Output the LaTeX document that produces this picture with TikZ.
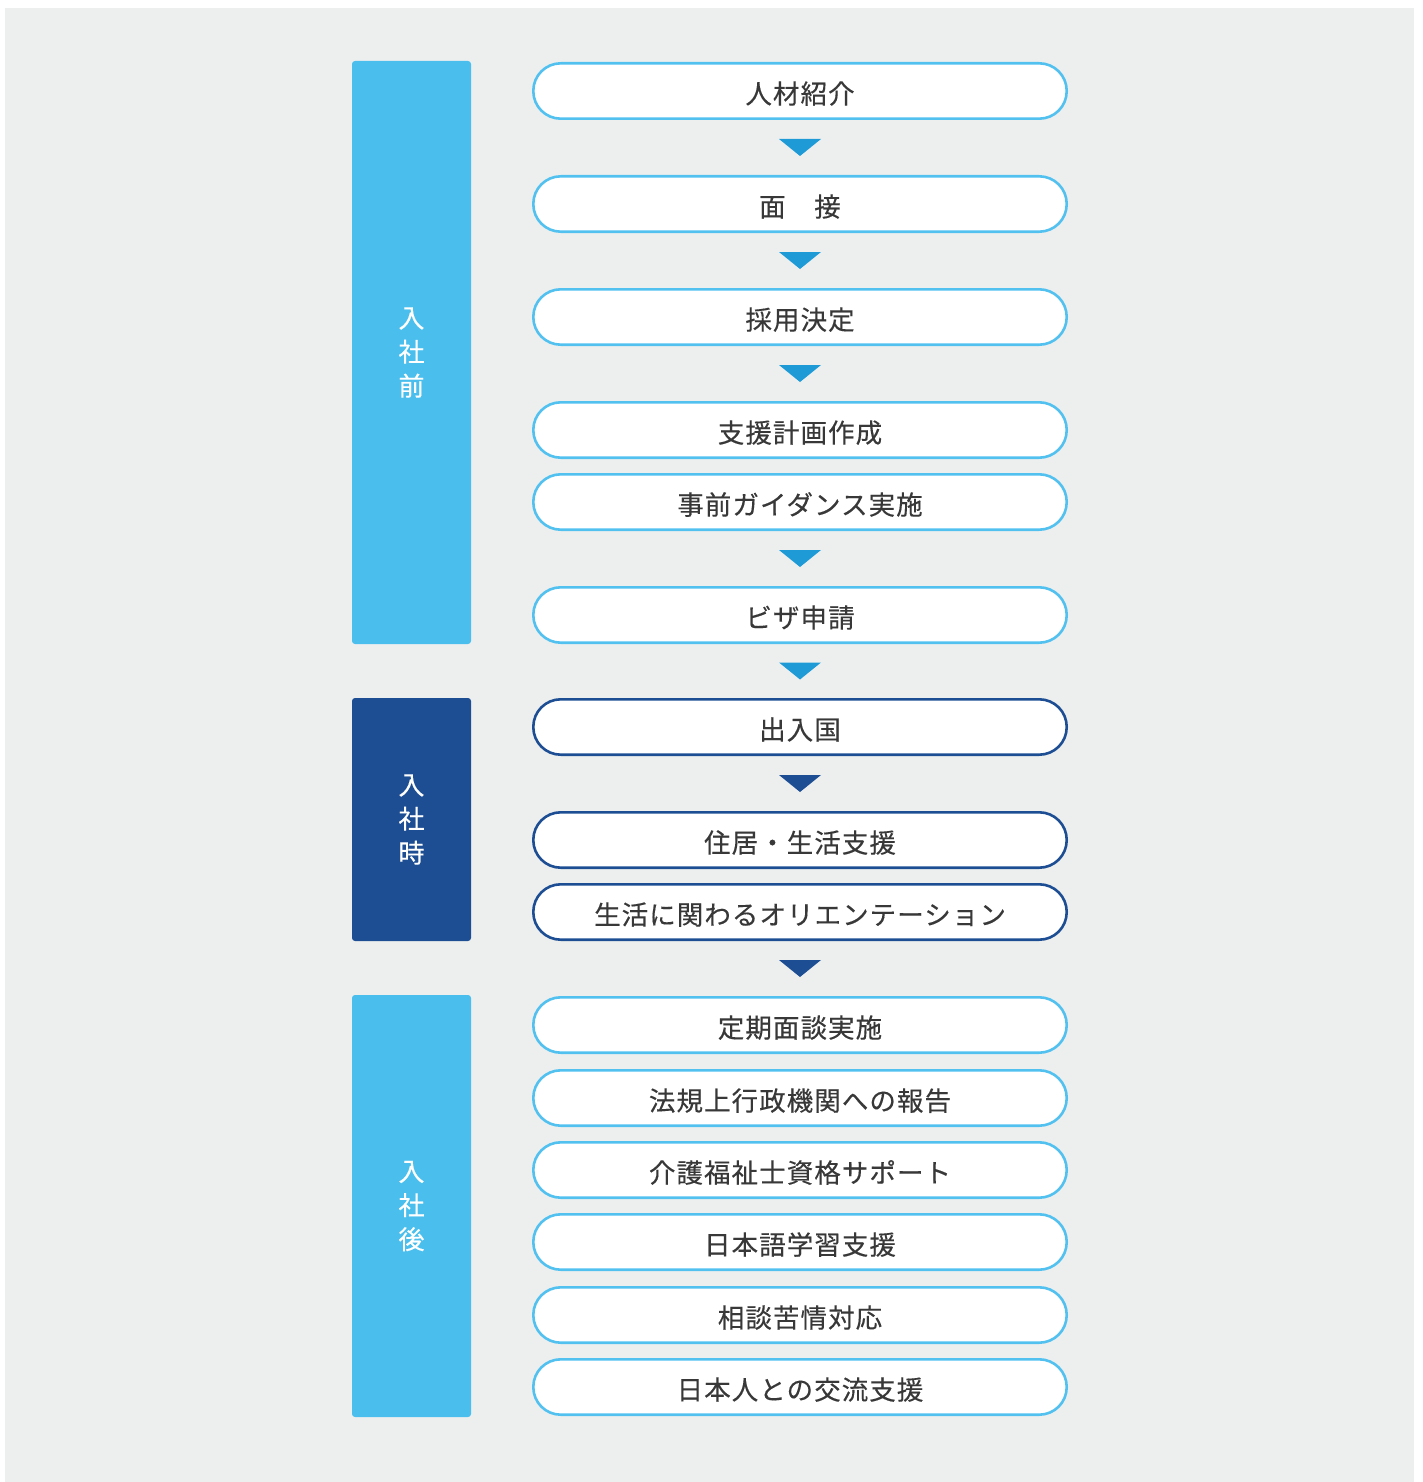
\documentclass[tikz,border=0pt]{standalone}
\usepackage{fontspec}
\newfontfamily\jp{Noto Sans CJK JP}[LetterSpace=4,FakeBold=0.3]
\newfontfamily\jpl{Noto Sans CJK JP}[FakeBold=0.3]
\usetikzlibrary{calc}
\definecolor{bg}{HTML}{EDEFEE}
\definecolor{lb}{HTML}{4ABFEE}
\definecolor{lbline}{HTML}{52C1F0}
\definecolor{tri}{HTML}{1E9BD7}
\definecolor{db}{HTML}{1D4E94}
\definecolor{txt}{HTML}{383838}
\newcommand\tridown[3]{\fill[#1] ($(#2.south)!0.5!(#3.north)$) ++(-21,-8.5) -- ++(42,0) -- ++(-21,17) -- cycle;}
\begin{document}
\begin{tikzpicture}[x=1pt,y=-1pt,
  pill/.style={draw=lbline, line width=2.6pt, fill=white, rounded corners=27.5pt,
    minimum width=533.4pt, minimum height=55.4pt, inner sep=0pt,
    text height=30pt, text depth=4.8pt,
    font=\jp\fontsize{26.5}{30}\selectfont, text=txt},
  pilld/.style={pill, draw=db},
  bar/.style={fill=#1, rounded corners=3pt, minimum width=119pt, inner sep=0pt,
    text=white, align=center, font=\jpl\fontsize{26}{34}\selectfont},
]
\useasboundingbox (0,0) rectangle (1422,1482);
\fill[white] (0,0) rectangle (1422,1482);
\fill[bg] (5,8) rectangle (1414,1482);

% phase bars
\node[bar=lb, minimum height=583pt] (b1) at (411.5,352.5) {入\\社\\前};
\node[bar=db, minimum height=243pt] (b2) at (411.5,819.5) {入\\社\\時};
\node[bar=lb, minimum height=422pt] (b3) at (411.5,1206) {入\\社\\後};

% steps
\node[pill] (p1) at (800,91) {人材紹介};
\node[pill] (p2) at (800,204) {面　接};
\node[pill] (p3) at (800,317) {採用決定};
\node[pill] (p4) at (800,430) {支援計画作成};
\node[pill] (p5) at (800,502) {事前ガイダンス実施};
\node[pill] (p6) at (800,615) {ビザ申請};
\node[pilld] (p7) at (800,727) {出入国};
\node[pilld] (p8) at (800,840) {住居・生活支援};
\node[pilld] (p9) at (800,912) {生活に関わるオリエンテーション};
\node[pill] (p10) at (800,1025) {定期面談実施};
\node[pill] (p11) at (800,1098) {法規上行政機関への報告};
\node[pill] (p12) at (800,1170) {介護福祉士資格サポート};
\node[pill] (p13) at (800,1242) {日本語学習支援};
\node[pill] (p14) at (800,1315) {相談苦情対応};
\node[pill] (p15) at (800,1387) {日本人との交流支援};

% arrows
\tridown{tri}{p1}{p2}
\tridown{tri}{p2}{p3}
\tridown{tri}{p3}{p4}
\tridown{tri}{p5}{p6}
\tridown{tri}{p6}{p7}
\tridown{db}{p7}{p8}
\tridown{db}{p9}{p10}
\end{tikzpicture}
\end{document}
